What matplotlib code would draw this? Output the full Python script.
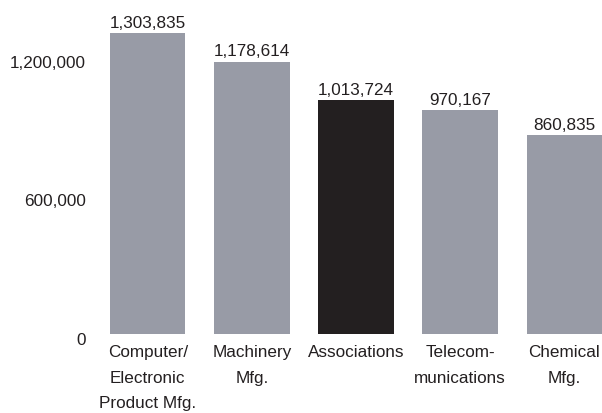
import matplotlib.pyplot as plt
import matplotlib.transforms as mtransforms
from matplotlib.ticker import FuncFormatter

# data
categories = ['Computer/\nElectronic\nProduct Mfg.', 'Machinery\nMfg.', 'Associations',
              'Telecom-\nmunications', 'Chemical\nMfg.']
values = [1303835, 1178614, 1013724, 970167, 860835]
yticks = [0, 600000, 1200000]
highlight = 'Associations'

gray = '#989ba6'
dark = '#231f20'
colors = [dark if c == highlight else gray for c in categories]

plt.rcParams['font.family'] = ['Liberation Sans', 'DejaVu Sans']

fig = plt.figure(figsize=(6.02, 4.14), dpi=100)
ax = fig.add_axes([110 / 602, 79 / 414, 492 / 602, 301 / 414])

x = range(len(categories))
bars = ax.bar(x, values, width=0.725, color=colors)
for b, v in zip(bars, values):
    ax.annotate(f'{v:,}', (b.get_x() + b.get_width() / 2, v), xytext=(0, 2.5),
                textcoords='offset points', ha='center', va='bottom',
                fontsize=12.3, color=dark, annotation_clip=False)

ax.set_xlim(-0.3625, len(categories) - 1 + 0.3625)
ax.set_ylim(0, max(values))
ax.set_yticks(yticks)
ax.yaxis.set_major_formatter(FuncFormatter(lambda v, p: f'{int(v):,}'))
ax.set_xticks(list(x))
ax.set_xticklabels(categories, linespacing=1.9)
ax.tick_params(length=0, labelsize=12.3, colors=dark)
ax.tick_params(axis='y', pad=17.5)
ax.tick_params(axis='x', pad=7)
for s in ax.spines.values():
    s.set_visible(False)

# y labels sit a few pixels below their gridline in the reference
shift = mtransforms.ScaledTranslation(0, -4 / 100, fig.dpi_scale_trans)
for lab in ax.get_yticklabels():
    lab.set_transform(lab.get_transform() + shift)

fig.savefig('out.png', dpi=100)
